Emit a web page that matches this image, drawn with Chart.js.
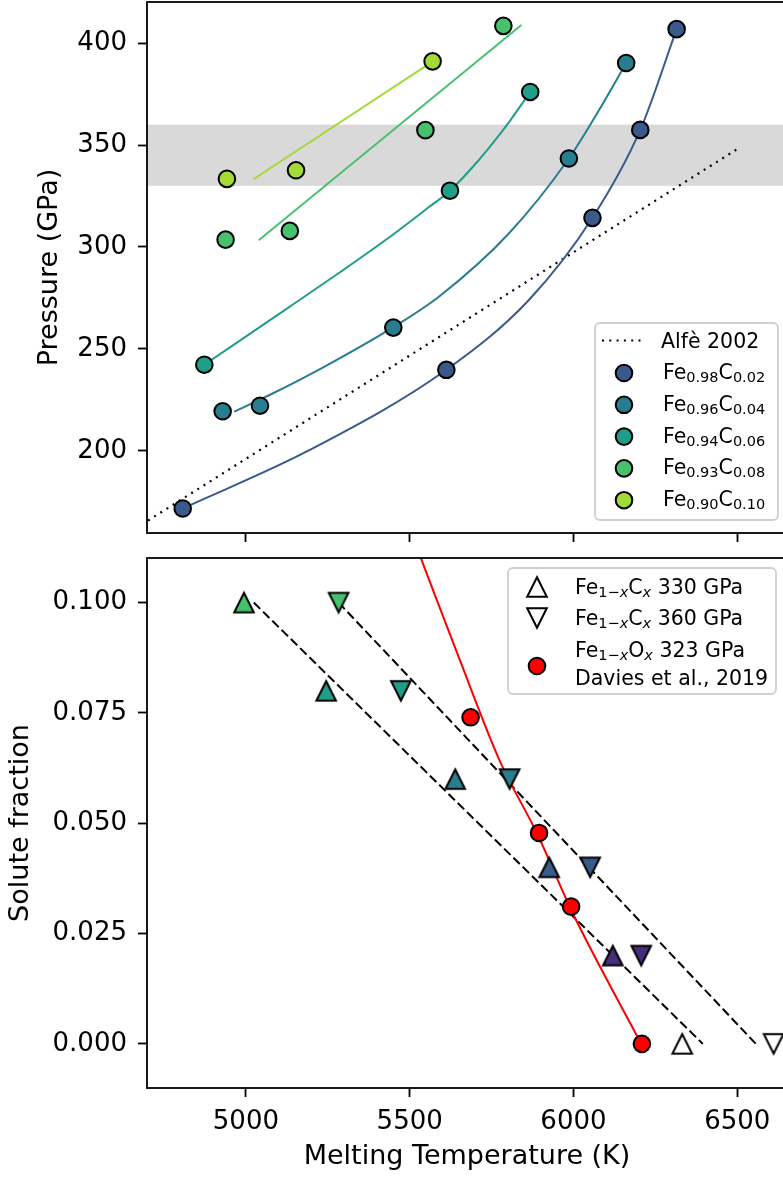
<!DOCTYPE html>
<html>
<head>
<meta charset="utf-8">
<script src="https://cdn.jsdelivr.net/npm/chart.js@4/dist/chart.umd.min.js"></script>
<style>
  html, body { margin: 0; padding: 0; overflow: hidden; background: #fff; width: 783px; height: 1178px; }
  canvas { position: absolute; left: 0; }
  #top { top: 0; }
  #bot { top: 545px; }
</style>
</head>
<body>
<canvas id="top" width="800" height="545"></canvas>
<canvas id="bot" width="800" height="633"></canvas>
<script>
// ---- axes ----
const tMin = 4698, tMax = 6652;
const tTicks = [5000, 5500, 6000, 6500];
const pMin = 159.8, pMax = 420.1;
const pTicks = [200, 250, 300, 350, 400];
const fMin = -0.01, fMax = 0.1101;
const fTicks = [0, 0.025, 0.05, 0.075, 0.1];

// ---- top panel: melting curves ----
const fracFe = [0.98, 0.96, 0.94, 0.93, 0.90];
const fracC = [0.02, 0.04, 0.06, 0.08, 0.10];

const alfeT = [4701, 6501];
const alfeP = [165.9, 348.1];
const bandP = [330, 360];

const meltT = [
  [4807, 5612, 6058, 6204, 6315],
  [4929, 5043, 5450, 5986, 6161],
  [4873, 5623, 5868],
  [4938, 5134, 5548, 5786],
  [4942, 5153, 5570]
];
const meltP = [
  [171.8, 239.8, 314.3, 357.4, 406.8],
  [219.5, 222.2, 260.5, 343.4, 390.2],
  [242.3, 327.6, 376.0],
  [303.6, 307.9, 357.3, 408.4],
  [333.4, 337.6, 391.0]
];
// fitted curves
const fitT = [
  [4807, 5195, 5612, 5864, 6058, 6204, 6315],
  [4964, 5083, 5236, 5450, 5592, 5802, 5986, 6076, 6161],
  [4875, 5134, 5287, 5439, 5560, 5623, 5680, 5739, 5800, 5868],
  [5039, 5841],
  [5023, 5552]
];
const fitP = [
  [171.8, 200.5, 239.8, 274.0, 314.3, 357.4, 406.8],
  [219.3, 228.3, 241.0, 260.7, 276.0, 306.5, 343.4, 366.5, 390.2],
  [242.5, 270.8, 287.6, 304.9, 319.7, 327.6, 337.0, 348.0, 360.5, 376.0],
  [303.3, 408.8],
  [333.2, 389.0]
];
const topColors = ['#3b5a8c', '#287d8e', '#1f9e89', '#48c16e', '#a2da37'];

// ---- bottom panel: solute fraction ----
const frac = [0.10, 0.08, 0.06, 0.04, 0.02, 0.00];
const t330 = [4994, 5245, 5639, 5926, 6120, 6332];
const t360 = [5283, 5473, 5805, 6051, 6207, 6611];
const fit330T = [5024, 6395];
const fit330X = [0.100, 0.000];
const fit360T = [5283, 6557];
const fit360X = [0.100, 0.000];
const oxT = [5686, 5895, 5993, 6209];
const oxX = [0.074, 0.0478, 0.0311, 0.000];
const oxFitT = [5533, 5653, 5774, 5890, 5998, 6207];
const oxFitX = [0.1103, 0.0870, 0.0643, 0.0475, 0.0296, 0.000];
const botColors = ['#48c16e', '#1f9e89', '#287d8e', '#3b5a8c', '#472d7b', '#ffffff'];

const pts = (xs, ys) => xs.map((x, i) => ({x: x, y: ys[i]}));

Chart.defaults.font.family = 'DejaVu Sans';
Chart.defaults.color = '#000';
Chart.defaults.animation = false;
Chart.defaults.events = [];
Chart.defaults.plugins.legend.display = false;
Chart.defaults.plugins.tooltip.enabled = false;

function tri(fill, up) {
  const c = document.createElement('canvas');
  c.width = 28; c.height = 28;
  const g = c.getContext('2d');
  const m = 14, h = 9.8;
  g.beginPath();
  if (up) { g.moveTo(m, m - h); g.lineTo(m + h, m + h); g.lineTo(m - h, m + h); }
  else { g.moveTo(m, m + h); g.lineTo(m + h, m - h); g.lineTo(m - h, m - h); }
  g.closePath();
  g.fillStyle = fill; g.fill();
  g.lineWidth = 2; g.strokeStyle = '#000'; g.stroke();
  return c;
}

const tickGrid = { drawOnChartArea: false, drawTicks: true, tickLength: 9, tickWidth: 1.8, tickColor: '#000' };
const TITLE = '27px "DejaVu Sans"';

function noPad(s) {
  s.paddingTop = 0; s.paddingBottom = 0; s.paddingLeft = 0; s.paddingRight = 0;
}

function xScale(labels) {
  return {
    type: 'linear', min: tMin, max: tMax,
    afterBuildTicks: s => { s.ticks = tTicks.map(v => ({value: v})); },
    ticks: { display: labels, font: {size: 26}, padding: 10, maxRotation: 0, callback: v => String(v) },
    grid: tickGrid,
    border: { display: false },
    afterFit: s => { s.height = labels ? 90 : 12; noPad(s); }
  };
}

function yScale(min, max, ticks, fmt) {
  return {
    type: 'linear', min: min, max: max,
    afterBuildTicks: s => { s.ticks = ticks.map(v => ({value: v})); },
    ticks: { font: {size: 26}, padding: 11, callback: fmt },
    grid: tickGrid,
    border: { display: false },
    afterFit: s => { s.width = 147; noPad(s); }
  };
}

function frame(chart) {
  const {ctx, chartArea: a} = chart;
  ctx.save();
  ctx.strokeStyle = '#000';
  ctx.lineWidth = 1.8;
  ctx.strokeRect(a.left, a.top, a.right - a.left, a.bottom - a.top);
  ctx.restore();
}

function yTitle(chart, text, x) {
  const {ctx, chartArea: a} = chart;
  ctx.save();
  ctx.translate(x, (a.top + a.bottom) / 2);
  ctx.rotate(-Math.PI / 2);
  ctx.font = TITLE;
  ctx.fillStyle = '#000';
  ctx.textAlign = 'center';
  ctx.textBaseline = 'middle';
  ctx.fillText(text, 0, 0);
  ctx.restore();
}

function legendBox(ctx, x, y, w, h) {
  ctx.beginPath();
  ctx.roundRect(x, y, w, h, 5);
  ctx.fillStyle = 'rgba(255,255,255,0.8)';
  ctx.fill();
  ctx.strokeStyle = '#cfcfcf';
  ctx.lineWidth = 1.8;
  ctx.stroke();
}

function runs(ctx, x, y, list) {
  ctx.textBaseline = 'alphabetic';
  ctx.textAlign = 'left';
  ctx.fillStyle = '#000';
  list.forEach(r => {
    ctx.font = r[1];
    ctx.fillText(r[0], x, y + (r[2] || 0));
    x += ctx.measureText(r[0]).width;
  });
}

const F = '20.5px "DejaVu Sans"';
const S = '14.5px "DejaVu Sans"';
const SI = 'italic 14.5px "DejaVu Sans"';

// ---------------- top chart ----------------
const topDatasets = [{
  type: 'line', data: pts(alfeT, alfeP), borderColor: '#000', borderWidth: 2.2,
  borderDash: [2, 5.3], pointRadius: 0, order: 3
}];
fitT.forEach((t, i) => topDatasets.push({
  type: 'line', data: pts(t, fitP[i]), borderColor: topColors[i], borderWidth: 2,
  cubicInterpolationMode: 'monotone', pointRadius: 0, order: 2
}));
meltT.forEach((t, i) => topDatasets.push({
  type: 'scatter', data: pts(t, meltP[i]), pointStyle: 'circle', pointRadius: 8.3,
  pointBackgroundColor: topColors[i], pointBorderColor: '#000', pointBorderWidth: 2, order: 1
}));

new Chart(document.getElementById('top'), {
  type: 'scatter',
  data: { datasets: topDatasets },
  options: {
    responsive: false,
    layout: { autoPadding: false, padding: { top: 2, right: 13, left: 0, bottom: 0 } },
    scales: {
      x: xScale(false),
      y: yScale(pMin, pMax, pTicks, v => String(v))
    }
  },
  plugins: [{
    id: 'topDecor',
    beforeDatasetsDraw(chart) {
      const {ctx, chartArea: a, scales: {y}} = chart;
      const y1 = y.getPixelForValue(bandP[1]), y0 = y.getPixelForValue(bandP[0]);
      ctx.save();
      ctx.fillStyle = '#d9d9d9';
      ctx.fillRect(a.left, y1, a.right - a.left, y0 - y1);
      ctx.restore();
    },
    afterDraw(chart) {
      frame(chart);
      yTitle(chart, 'Pressure (GPa)', 50);
      const ctx = chart.ctx;
      ctx.save();
      legendBox(ctx, 595, 323, 183, 197);
      ctx.beginPath();
      ctx.setLineDash([2, 5.3]);
      ctx.lineWidth = 2.2;
      ctx.strokeStyle = '#000';
      ctx.moveTo(602, 340.5); ctx.lineTo(645, 340.5);
      ctx.stroke();
      ctx.setLineDash([]);
      runs(ctx, 661, 348, [['Alfè 2002', F]]);
      fracC.forEach((c, i) => {
        const yy = 373 + i * 31.8;
        ctx.beginPath();
        ctx.arc(624, yy, 8.3, 0, Math.PI * 2);
        ctx.fillStyle = topColors[i];
        ctx.fill();
        ctx.lineWidth = 2; ctx.strokeStyle = '#000'; ctx.stroke();
        runs(ctx, 663, yy + 6, [['Fe', F], [fracFe[i].toFixed(2), S, 3], ['C', F], [c.toFixed(2), S, 3]]);
      });
      ctx.restore();
    }
  }]
});

// ---------------- bottom chart ----------------
new Chart(document.getElementById('bot'), {
  type: 'scatter',
  data: {
    datasets: [
      { type: 'line', data: pts(fit330T, fit330X), borderColor: '#000', borderWidth: 2, borderDash: [9, 4], pointRadius: 0, order: 3 },
      { type: 'line', data: pts(fit360T, fit360X), borderColor: '#000', borderWidth: 2, borderDash: [9, 4], pointRadius: 0, order: 3 },
      { type: 'line', data: pts(oxFitT, oxFitX), borderColor: '#ff0000', borderWidth: 2, cubicInterpolationMode: 'monotone', pointRadius: 0, order: 2 },
      { type: 'scatter', data: pts(t330, frac), pointStyle: botColors.map(c => tri(c, true)), order: 1 },
      { type: 'scatter', data: pts(t360, frac), pointStyle: botColors.map(c => tri(c, false)), order: 1 },
      { type: 'scatter', data: pts(oxT, oxX), pointStyle: 'circle', pointRadius: 8.3, pointBackgroundColor: '#ff0000', pointBorderColor: '#000', pointBorderWidth: 2, order: 1 }
    ]
  },
  options: {
    responsive: false,
    layout: { autoPadding: false, padding: { top: 13, right: 13, left: 0, bottom: 0 } },
    scales: {
      x: xScale(true),
      y: yScale(fMin, fMax, fTicks, v => v.toFixed(3))
    }
  },
  plugins: [{
    id: 'botDecor',
    afterDraw(chart) {
      frame(chart);
      yTitle(chart, 'Solute fraction', 21);
      const ctx = chart.ctx;
      const a = chart.chartArea;
      ctx.save();
      ctx.font = TITLE;
      ctx.fillStyle = '#000';
      ctx.textAlign = 'center';
      ctx.textBaseline = 'middle';
      ctx.fillText('Melting Temperature (K)', (a.left + a.right) / 2, 612);
      legendBox(ctx, 508, 23, 268, 126);
      ctx.drawImage(tri('#ffffff', true), 537 - 14, 42 - 14);
      ctx.drawImage(tri('#ffffff', false), 537 - 14, 73 - 14);
      ctx.beginPath();
      ctx.arc(537, 121, 8.3, 0, Math.PI * 2);
      ctx.fillStyle = '#ff0000'; ctx.fill();
      ctx.lineWidth = 2; ctx.strokeStyle = '#000'; ctx.stroke();
      const fe = [['Fe', F], ['1', S, 3], ['\u2212', S, 3], ['x', SI, 3]];
      runs(ctx, 575, 49, fe.concat([['C', F], ['x', SI, 3], [' 330 GPa', F]]));
      runs(ctx, 575, 80, fe.concat([['C', F], ['x', SI, 3], [' 360 GPa', F]]));
      runs(ctx, 575, 112, fe.concat([['O', F], ['x', SI, 3], [' 323 GPa', F]]));
      runs(ctx, 575, 140, [['Davies et al., 2019', F]]);
      ctx.restore();
    }
  }]
});
</script>
</body>
</html>
